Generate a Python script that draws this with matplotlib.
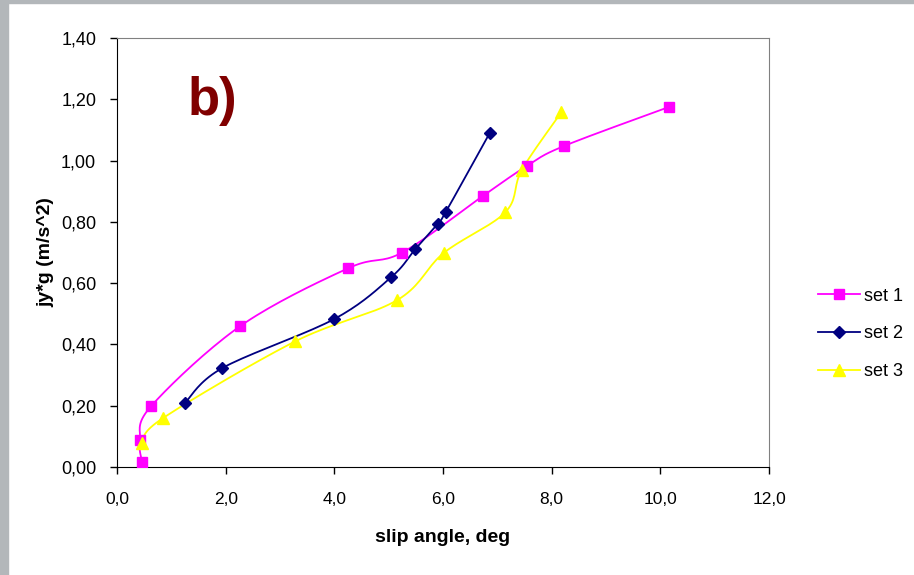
import numpy as np
import matplotlib
matplotlib.use("Agg")
import matplotlib.pyplot as plt
from matplotlib.patches import Rectangle

# ── data ─────────────────────────────────────────────────────────────────────
set1_x = [0.46, 0.42, 0.63, 2.27, 4.26, 5.25, 6.73, 7.54, 8.22, 10.16]
set1_y = [0.016, 0.088, 0.199, 0.46, 0.649, 0.70, 0.884, 0.982, 1.047, 1.175]

set2_x = [1.25, 1.94, 4.00, 5.05, 5.49, 5.90, 6.05, 6.86]
set2_y = [0.209, 0.323, 0.483, 0.62, 0.711, 0.793, 0.832, 1.09]

set3_x = [0.46, 0.85, 3.28, 5.16, 6.01, 7.15, 7.45, 8.18]
set3_y = [0.078, 0.16, 0.41, 0.545, 0.698, 0.832, 0.969, 1.158]

x_ticks = [0, 2, 4, 6, 8, 10, 12]
y_ticks = [0.0, 0.2, 0.4, 0.6, 0.8, 1.0, 1.2, 1.4]


def smooth(xs, ys, n=20):
    # Catmull-Rom through the points, like Excel's "smoothed line"
    p = np.column_stack([xs, ys]).astype(float)
    p = np.vstack([p[0], p, p[-1]])
    out = []
    for i in range(1, len(p) - 2):
        p0, p1, p2, p3 = p[i - 1], p[i], p[i + 1], p[i + 2]
        t = np.linspace(0, 1, n)[:, None]
        seg = 0.5 * ((2 * p1) + (-p0 + p2) * t
                     + (2 * p0 - 5 * p1 + 4 * p2 - p3) * t ** 2
                     + (-p0 + 3 * p1 - 3 * p2 + p3) * t ** 3)
        out.append(seg)
    out = np.vstack(out)
    return out[:, 0], out[:, 1]


plt.rcParams["font.family"] = ["Liberation Sans", "DejaVu Sans"]

fig = plt.figure(figsize=(9.14, 5.75), dpi=100)
# screenshot edge strips
fig.patches.append(Rectangle((0, 0), 8 / 914, 1, transform=fig.transFigure,
                             color="#b3b7ba", zorder=0))
fig.patches.append(Rectangle((0, 1 - 3 / 575), 1, 3 / 575, transform=fig.transFigure,
                             color="#b3b7ba", zorder=0))

ax = fig.add_axes([117 / 914, 1 - 467 / 575, (769 - 117) / 914, (467 - 38) / 575])

series = [
    ("set 1", set1_x, set1_y, "#ff00ff", "s", 7),
    ("set 2", set2_x, set2_y, "#000080", "D", 6),
    ("set 3", set3_x, set3_y, "#ffff00", "^", 8),
]
for label, xs, ys, col, mk, ms in series:
    sx, sy = smooth(xs, ys)
    ax.plot(sx, sy, color=col, lw=1.3, zorder=2)
    ax.plot(xs, ys, ls="none", marker=mk, color=col, ms=ms, mec=col, zorder=3)
    ax.plot([], [], color=col, lw=1.3, marker=mk, ms=ms, label=label)

ax.set_xlim(0, 12)
ax.set_ylim(0, 1.4)
ax.set_xticks(x_ticks)
ax.set_yticks(y_ticks)
ax.set_xticklabels([f"{v:.1f}".replace(".", ",") for v in x_ticks], fontsize=12.5)
ax.set_yticklabels([f"{v:.2f}".replace(".", ",") for v in y_ticks], fontsize=13)
ax.tick_params(axis="y", direction="out", length=5, width=1, pad=10)
ax.tick_params(axis="x", direction="out", length=5, width=1, pad=13)
for s in ["left", "bottom"]:
    ax.spines[s].set_color("black")
for s in ["top", "right"]:
    ax.spines[s].set_color("#808080")

ax.set_xlabel("slip angle, deg", fontsize=14, fontweight="bold", labelpad=16)
ax.set_ylabel("jy*g (m/s^2)", fontsize=14, fontweight="bold", labelpad=5)

ax.text(1.29, 1.195, "b)", fontsize=38, fontweight="bold", color="#800000",
        ha="left", va="center")

fig.legend(loc="center left", bbox_to_anchor=(802 / 914, 1 - 334 / 575),
           frameon=False, fontsize=13, handlelength=2.3, labelspacing=1.15,
           handletextpad=0.25)

fig.savefig("out.png", dpi=100)
